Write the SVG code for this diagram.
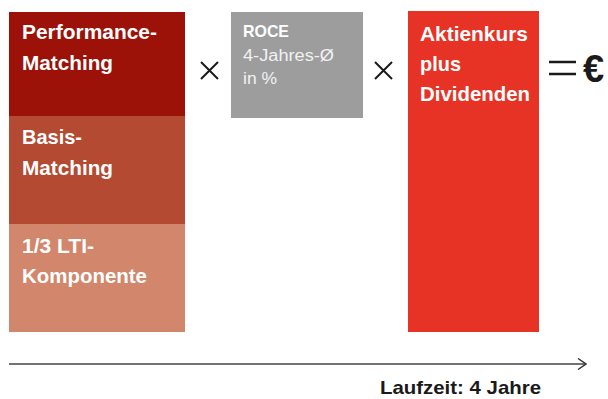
<svg xmlns="http://www.w3.org/2000/svg" width="608" height="399" viewBox="0 0 608 399">
<defs>
<style>
.b{font-family:"Liberation Sans",Arial,sans-serif;font-weight:bold;fill:#fff;font-size:21px}
.r{font-family:"Liberation Sans",Arial,sans-serif;fill:#f2f2f2;font-size:16px}
.op{stroke:#1a1a1a;stroke-width:2;fill:none}
.lbl{font-family:"Liberation Sans",Arial,sans-serif;font-weight:bold;fill:#1a1a1a;font-size:19px}
</style>
<marker id="ah" viewBox="0 0 10 12" refX="9" refY="6" markerWidth="10" markerHeight="12" markerUnits="userSpaceOnUse" orient="auto">
<path d="M1,0.5 L9,6 L1,11.5" fill="none" stroke="#333" stroke-width="1.4"/>
</marker>
</defs>
<rect width="608" height="399" fill="#fff"/>
<g id="performance-matching">
<rect x="9" y="12" width="176" height="104" fill="#9c1108"/>
<text class="b" x="22" y="39" textLength="135" lengthAdjust="spacingAndGlyphs">Performance-</text>
<text class="b" x="22" y="70" textLength="91" lengthAdjust="spacingAndGlyphs">Matching</text>
</g>
<g id="basis-matching">
<rect x="9" y="116" width="176" height="108" fill="#b34a31"/>
<text class="b" x="22" y="144" textLength="60" lengthAdjust="spacingAndGlyphs">Basis-</text>
<text class="b" x="22" y="175" textLength="91" lengthAdjust="spacingAndGlyphs">Matching</text>
</g>
<g id="lti-komponente">
<rect x="9" y="224" width="176" height="108" fill="#d2866b"/>
<text class="b" x="22" y="253" textLength="72" lengthAdjust="spacingAndGlyphs">1/3 LTI-</text>
<text class="b" x="22" y="283" textLength="125" lengthAdjust="spacingAndGlyphs">Komponente</text>
</g>
<g id="times1">
<path class="op" d="M201,62 L218,79 M218,62 L201,79"/>
</g>
<g id="roce">
<rect x="231" y="12" width="132" height="106" fill="#9d9d9d"/>
<text class="b" x="243" y="37" style="font-size:17px" textLength="46" lengthAdjust="spacingAndGlyphs">ROCE</text>
<text class="r" x="243" y="61" textLength="91" lengthAdjust="spacingAndGlyphs">4-Jahres-Ø</text>
<text class="r" x="243" y="84" textLength="34" lengthAdjust="spacingAndGlyphs">in %</text>
</g>
<g id="times2">
<path class="op" d="M375,62 L392,79 M392,62 L375,79"/>
</g>
<g id="aktienkurs">
<rect x="408" y="11" width="131" height="321" fill="#e63326"/>
<text class="b" x="420" y="41" textLength="108" lengthAdjust="spacingAndGlyphs">Aktienkurs</text>
<text class="b" x="420" y="71" textLength="41" lengthAdjust="spacingAndGlyphs">plus</text>
<text class="b" x="420" y="101" textLength="110" lengthAdjust="spacingAndGlyphs">Dividenden</text>
</g>
<g id="equals-euro">
<path d="M549,62 H576 M549,74 H576" stroke="#1a1a1a" stroke-width="2.6" fill="none"/>
<text x="583" y="82" style="font-family:'Liberation Sans',Arial,sans-serif;font-weight:bold;font-size:38px;fill:#1a1a1a">€</text>
</g>
<g id="connectors">
<line x1="9" y1="364" x2="586" y2="364" stroke="#444" stroke-width="1.6" marker-end="url(#ah)"/>
</g>
<g id="laufzeit">
<text class="lbl" x="380" y="394" textLength="161" lengthAdjust="spacingAndGlyphs">Laufzeit: 4 Jahre</text>
</g>
</svg>
